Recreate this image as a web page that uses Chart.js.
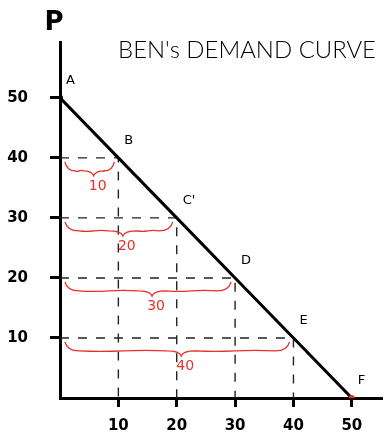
<!DOCTYPE html>
<html>
<head>
<meta charset="utf-8">
<script src="https://cdn.jsdelivr.net/npm/chart.js@4"></script>
<style>
  html, body { margin: 0; padding: 0; background: #fff; }
</style>
</head>
<body>
<canvas id="demand" width="385" height="441"></canvas>
<script>
// demand schedule
var quantity = [0, 10, 20, 30, 40, 50];
var price = [50, 40, 30, 20, 10, 0];
var pointNames = ["A", "B", "C'", "D", "E", "F"];

var qTicks = [10, 20, 30, 40, 50];
var pTicks = [10, 20, 30, 40, 50];

// quantity demanded at each price, marked with a brace
var braceQty = [10, 20, 30, 40];
var bracePrice = [40, 30, 20, 10];

var titleText = "BEN's DEMAND CURVE";
var axisName = "P";

var red = "#e8302c";

var curve = quantity.map(function (q, i) { return { x: q, y: price[i] }; });

var datasets = [{
    data: curve,
    borderColor: "#000",
    borderWidth: 3,
    pointRadius: [3, 0, 0, 0, 0, 3],
    pointBackgroundColor: ["#000", "#000", "#000", "#000", "#000", red],
    pointBorderWidth: 0
}];

// dashed guides from each point back to both axes
quantity.forEach(function (q, i) {
    if (q === 0 || price[i] === 0) return;
    datasets.push({
        data: [{ x: 0, y: price[i] }, { x: q, y: price[i] }, { x: q, y: 0 }],
        borderColor: "#222",
        borderWidth: 1.4,
        borderDash: [9, 9],
        pointRadius: 0
    });
});

function drawBrace(ctx, x0, x1, yt) {
    var mid = (x0 + x1) / 2 + 4;
    var r = Math.min(14, (x1 - x0) / 5);
    var yf = yt + 9, ytip = yt + 14;
    ctx.beginPath();
    ctx.moveTo(x0, yt);
    ctx.quadraticCurveTo(x0 + 2, yf, x0 + r, yf);
    ctx.bezierCurveTo((x0 + mid) / 2, yf + 2, (x0 + mid) / 2, yf - 2, mid - r, yf);
    ctx.quadraticCurveTo(mid - 2, yf, mid, ytip);
    ctx.quadraticCurveTo(mid + 2, yf, mid + r, yf);
    ctx.bezierCurveTo((mid + x1) / 2, yf + 2, (mid + x1) / 2, yf - 2, x1 - r, yf);
    ctx.quadraticCurveTo(x1 - 2, yf, x1, yt);
    ctx.stroke();
    return { x: mid, y: ytip };
}

var annotate = {
    id: "annotate",
    afterDatasetsDraw: function (chart) {
        var ctx = chart.ctx, xs = chart.scales.x, ys = chart.scales.y;
        ctx.save();

        // axis name
        ctx.fillStyle = "#000";
        ctx.font = "bold 26px 'DejaVu Sans'";
        ctx.textAlign = "center";
        ctx.textBaseline = "middle";
        ctx.fillText(axisName, 54, 23);

        // title, stretched a little like the hand lettering
        ctx.font = "300 20px Lato";
        ctx.textAlign = "left";
        ctx.textBaseline = "alphabetic";
        var w = ctx.measureText(titleText).width;
        ctx.save();
        ctx.translate(118, 58);
        ctx.scale(258 / w, 1.15);
        ctx.fillText(titleText, 0, 0);
        ctx.restore();

        // point names
        ctx.font = "13px 'DejaVu Sans'";
        ctx.textBaseline = "middle";
        pointNames.forEach(function (n, i) {
            var px = xs.getPixelForValue(quantity[i]);
            var py = ys.getPixelForValue(price[i]);
            ctx.fillText(n, px + 6, py - 17);
        });

        // braces with the quantity demanded
        ctx.strokeStyle = red;
        ctx.fillStyle = red;
        ctx.lineWidth = 1.3;
        ctx.font = "14px 'DejaVu Sans'";
        ctx.textAlign = "center";
        braceQty.forEach(function (q, i) {
            var x0 = xs.getPixelForValue(0) + 5;
            var x1 = xs.getPixelForValue(q) - 4;
            var yt = ys.getPixelForValue(bracePrice[i]) + 4;
            var tip = drawBrace(ctx, x0, x1, yt);
            ctx.fillText(String(q), tip.x + 4, tip.y + 10);
        });

        ctx.restore();
    }
};

function tickSetup(values) {
    return function (scale) {
        scale.ticks = values.map(function (v) { return { value: v }; });
    };
}

new Chart(document.getElementById("demand"), {
    type: "line",
    data: { datasets: datasets },
    options: {
        responsive: false,
        animation: false,
        layout: { padding: { top: 42, right: 0, left: 0, bottom: 0 } },
        plugins: { legend: { display: false }, tooltip: { enabled: false } },
        scales: {
            x: {
                type: "linear",
                min: 0,
                max: 55,
                afterBuildTicks: tickSetup(qTicks),
                afterFit: function (s) { s.height = 43; },
                ticks: { color: "#000", font: { family: "DejaVu Sans", size: 15, weight: "bold" }, padding: 10, maxRotation: 0 },
                grid: { drawOnChartArea: false, tickLength: 9, color: "#000", lineWidth: 3 },
                border: { color: "#000", width: 3 }
            },
            y: {
                type: "linear",
                min: 0,
                max: 59.3,
                afterBuildTicks: tickSetup(pTicks),
                afterFit: function (s) { s.width = 60; },
                ticks: { color: "#000", font: { family: "DejaVu Sans", size: 15, weight: "bold" }, padding: 22 },
                grid: { drawOnChartArea: false, tickLength: 10, color: "#000", lineWidth: 3 },
                border: { color: "#000", width: 3 }
            }
        }
    },
    plugins: [annotate]
});
</script>
</body>
</html>
